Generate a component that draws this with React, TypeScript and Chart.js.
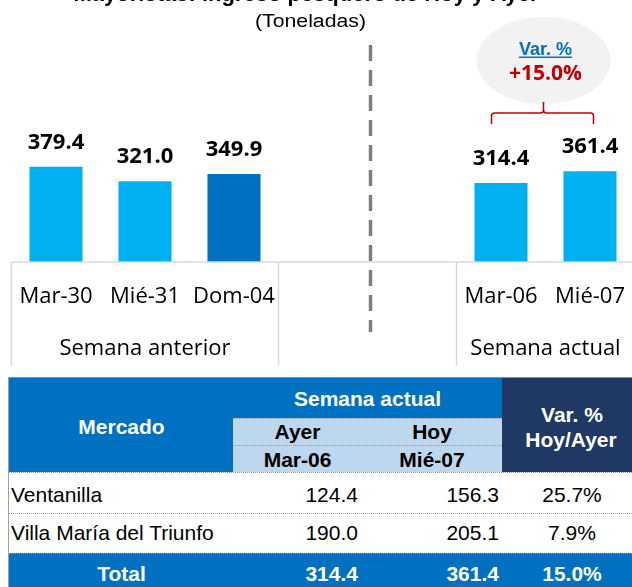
import React, { useEffect, useRef } from 'react';
import { Chart, registerables } from 'chart.js';

Chart.register(...registerables);

// ---------- data ----------
const chartTitle = 'Mayoristas: ingreso pesquero de Hoy y Ayer';
const chartSubtitle = '(Toneladas)';
const categories = ['Mar-30', 'Mié-31', 'Dom-04', '', '', 'Mar-06', 'Mié-07'];
const tonnage: (number | null)[] = [379.4, 321.0, 349.9, null, null, 314.4, 361.4];
const groupLabels = ['Semana anterior', '', 'Semana actual'];
const groupStarts = [0, 3, 5];
const groupEnds = [2, 4, 6];
const variationTitle = 'Var. %';
const variationValue = '+15.0%';

const tableHeaderMarket = 'Mercado';
const tableHeaderWeek = 'Semana actual';
const tableHeaderDays = ['Ayer', 'Hoy'];
const tableHeaderDates = ['Mar-06', 'Mié-07'];
const tableHeaderVar = ['Var. %', 'Hoy/Ayer'];
const markets = ['Ventanilla', 'Villa María del Triunfo'];
const ayerValues = [124.4, 190.0];
const hoyValues = [156.3, 205.1];
const varValues = [25.7, 7.9];
const totalLabel = 'Total';
const totalAyer = 314.4;
const totalHoy = 361.4;
const totalVar = 15.0;

// ---------- styles ----------
const LIGHT_BLUE = '#00B0F0';
const DARK_BLUE = '#0070C0';
const NAVY = '#203864';
const PALE_BLUE = '#BDD7EE';
const RED = '#C00000';
const highlighted = 2;
const CAL = '"Open Sans", "Noto Sans", sans-serif';
const ARIAL = '"Liberation Sans", Arial, sans-serif';

const overlayPlugin = {
  id: 'overlay',
  afterDraw(chart: any) {
    const { ctx, chartArea } = chart;
    const x = chart.scales.x;
    ctx.save();

    // partial title (cut at the top)
    ctx.fillStyle = '#000';
    ctx.textAlign = 'center';
    ctx.textBaseline = 'alphabetic';
    ctx.font = `bold 22px ${ARIAL}`;
    ctx.fillText(chartTitle, 306, 0.5);

    // subtitle, slightly stretched horizontally
    ctx.save();
    ctx.translate(310.5, 27);
    ctx.scale(1.18, 1);
    ctx.font = `18px ${ARIAL}`;
    ctx.fillText(chartSubtitle, 0, 0);
    ctx.restore();

    // dashed separator
    const dashX = x.getPixelForValue(3.5) + 3;
    ctx.strokeStyle = '#7F7F7F';
    ctx.lineWidth = 3.5;
    ctx.setLineDash([16, 9]);
    ctx.beginPath();
    ctx.moveTo(dashX, 45);
    ctx.lineTo(dashX, 332);
    ctx.stroke();
    ctx.setLineDash([]);

    // variation bubble
    const cx = x.getPixelForValue(5.5) - 2;
    ctx.fillStyle = '#F2F2F2';
    ctx.beginPath();
    ctx.ellipse(cx, 60.5, 67, 43.5, 0, 0, Math.PI * 2);
    ctx.fill();

    ctx.font = `bold 18px ${ARIAL}`;
    ctx.fillStyle = DARK_BLUE;
    ctx.fillText(variationTitle, cx + 2, 55);
    const tw = ctx.measureText(variationTitle).width;
    ctx.fillRect(cx + 2 - tw / 2, 56.5, tw, 1.5);

    ctx.font = `bold 21px ${CAL}`;
    ctx.fillStyle = RED;
    ctx.fillText(variationValue, cx + 2, 80);

    // brace
    const x0 = cx - 52;
    const x1 = cx + 50;
    ctx.strokeStyle = RED;
    ctx.lineWidth = 1.5;
    ctx.beginPath();
    ctx.moveTo(x0, 124);
    ctx.lineTo(x0, 116);
    ctx.quadraticCurveTo(x0, 113, x0 + 3, 113);
    ctx.lineTo(cx - 3, 113);
    ctx.quadraticCurveTo(cx, 113, cx, 110);
    ctx.lineTo(cx, 102);
    ctx.moveTo(cx, 110);
    ctx.quadraticCurveTo(cx, 113, cx + 3, 113);
    ctx.lineTo(x1 - 3, 113);
    ctx.quadraticCurveTo(x1, 113, x1, 116);
    ctx.lineTo(x1, 124);
    ctx.stroke();

    // data labels
    const meta = chart.getDatasetMeta(0);
    ctx.fillStyle = '#000';
    ctx.font = `bold 22px ${CAL}`;
    meta.data.forEach((bar: any, i: number) => {
      const v = tonnage[i];
      if (v == null) return;
      ctx.fillText(v.toFixed(1), bar.x, bar.y - 18);
    });

    // axis line and group separators
    const base = chartArea.bottom;
    ctx.strokeStyle = '#D9D9D9';
    ctx.lineWidth = 1.5;
    ctx.beginPath();
    ctx.moveTo(chartArea.left, base);
    ctx.lineTo(chartArea.right, base);
    ctx.stroke();
    groupStarts.forEach((s, gi) => {
      const lx = x.getPixelForValue(s - 0.5);
      ctx.beginPath();
      ctx.moveTo(lx, base);
      ctx.lineTo(lx, 366);
      ctx.stroke();
      if (gi === groupStarts.length - 1) {
        const rx = x.getPixelForValue(groupEnds[gi] + 0.5);
        ctx.beginPath();
        ctx.moveTo(rx, base);
        ctx.lineTo(rx, 366);
        ctx.stroke();
      }
    });

    // category labels
    ctx.fillStyle = '#000';
    ctx.font = `22px ${CAL}`;
    categories.forEach((c, i) => {
      if (!c) return;
      ctx.fillText(c, x.getPixelForValue(i), 303);
    });

    // group labels
    groupLabels.forEach((g, gi) => {
      if (!g) return;
      const gx = (x.getPixelForValue(groupStarts[gi] - 0.5) + x.getPixelForValue(groupEnds[gi] + 0.5)) / 2;
      ctx.fillText(g, gx, 355);
    });

    ctx.restore();
  },
};

function BarChart() {
  const ref = useRef<HTMLCanvasElement | null>(null);
  useEffect(() => {
    if (!ref.current) return;
    const chart = new Chart(ref.current, {
      type: 'bar',
      data: {
        labels: categories,
        datasets: [
          {
            data: tonnage,
            backgroundColor: tonnage.map((_, i) => (i === highlighted ? DARK_BLUE : LIGHT_BLUE)),
            barPercentage: 0.596,
            categoryPercentage: 1,
            borderWidth: 0,
          },
        ],
      },
      options: {
        animation: false,
        responsive: false,
        devicePixelRatio: 1,
        layout: { padding: { left: 11.5, right: 5.5, top: 61, bottom: 110 } },
        plugins: { legend: { display: false }, tooltip: { enabled: false }, title: { display: false } },
        scales: {
          x: { display: false },
          y: { display: false, min: 0, max: 800 },
        },
      },
      plugins: [overlayPlugin],
    });
    return () => chart.destroy();
  }, []);
  return (
    <canvas
      ref={ref}
      width={640}
      height={372}
      style={{ position: 'absolute', left: 0, top: 0, width: 640, height: 372 }}
    />
  );
}

type TProps = {
  x: number;
  base: number;
  align?: 'left' | 'center' | 'right';
  bold?: boolean;
  color?: string;
  children: React.ReactNode;
};

function T({ x, base, align = 'left', bold = false, color = '#000', children }: TProps) {
  const tx = align === 'center' ? 'translateX(-50%)' : align === 'right' ? 'translateX(-100%)' : 'none';
  return (
    <div
      style={{
        position: 'absolute',
        left: x,
        top: base - 17.8,
        transform: tx,
        font: `${bold ? 'bold ' : ''}21px ${ARIAL}`,
        lineHeight: '21px',
        color,
        whiteSpace: 'nowrap',
      }}
    >
      {children}
    </div>
  );
}

function Rect({ x, y, w, h, bg }: { x: number; y: number; w: number; h: number; bg: string }) {
  return <div style={{ position: 'absolute', left: x, top: y, width: w, height: h, background: bg }} />;
}

function Dotted({ x, y, w }: { x: number; y: number; w: number }) {
  return (
    <div
      style={{ position: 'absolute', left: x, top: y, width: w, height: 0, borderTop: '1px dotted #9A9A9A' }}
    />
  );
}

function DataTable() {
  const L = 8;
  const C1 = 233;
  const C2 = 362;
  const C3 = 502;
  const R = 640;
  const rowBases = [502, 540];
  const dotted = [513, 553];
  return (
    <>
      <Rect x={L} y={377} w={C3 - L} h={95} bg={DARK_BLUE} />
      <Rect x={C1} y={418} w={C3 - C1} h={54} bg={PALE_BLUE} />
      <Rect x={C3} y={377} w={R - C3} h={95} bg={NAVY} />
      <Rect x={L} y={553} w={R - L} h={40} bg={DARK_BLUE} />
      <Rect x={L} y={377} w={R - L} h={1} bg="#8C8C8C" />
      <Rect x={L} y={377} w={1} h={210} bg="#A0A0A0" />
      <Dotted x={C1} y={418} w={C3 - C1} />
      <Dotted x={C1} y={445} w={C3 - C1} />
      <Dotted x={L} y={472} w={R - L} />
      {dotted.map((d) => (
        <Dotted key={d} x={L} y={d} w={R - L} />
      ))}

      <T x={121.5} base={434} align="center" bold color="#fff">{tableHeaderMarket}</T>
      <T x={367.5} base={406} align="center" bold color="#fff">{tableHeaderWeek}</T>
      <T x={(C1 + C2) / 2} base={439} align="center" bold>{tableHeaderDays[0]}</T>
      <T x={(C2 + C3) / 2} base={439} align="center" bold>{tableHeaderDays[1]}</T>
      <T x={(C1 + C2) / 2} base={467} align="center" bold>{tableHeaderDates[0]}</T>
      <T x={(C2 + C3) / 2} base={467} align="center" bold>{tableHeaderDates[1]}</T>
      <T x={572} base={422} align="center" bold color="#fff">{tableHeaderVar[0]}</T>
      <T x={571} base={447} align="center" bold color="#fff">{tableHeaderVar[1]}</T>

      {markets.map((m, i) => (
        <React.Fragment key={m}>
          <T x={11} base={rowBases[i]}>{m}</T>
          <T x={358} base={rowBases[i]} align="right">{ayerValues[i].toFixed(1)}</T>
          <T x={499} base={rowBases[i]} align="right">{hoyValues[i].toFixed(1)}</T>
          <T x={572} base={rowBases[i]} align="center">{varValues[i].toFixed(1)}%</T>
        </React.Fragment>
      ))}

      <T x={121.5} base={581} align="center" bold color="#fff">{totalLabel}</T>
      <T x={358} base={581} align="right" bold color="#fff">{totalAyer.toFixed(1)}</T>
      <T x={499} base={581} align="right" bold color="#fff">{totalHoy.toFixed(1)}</T>
      <T x={572} base={581} align="center" bold color="#fff">{totalVar.toFixed(1)}%</T>
    </>
  );
}

export default function App() {
  return (
    <div
      style={{
        position: 'absolute',
        left: 0,
        top: 0,
        width: 632,
        height: 587,
        overflow: 'hidden',
        background: '#fff',
      }}
    >
      <BarChart />
      <DataTable />
    </div>
  );
}
